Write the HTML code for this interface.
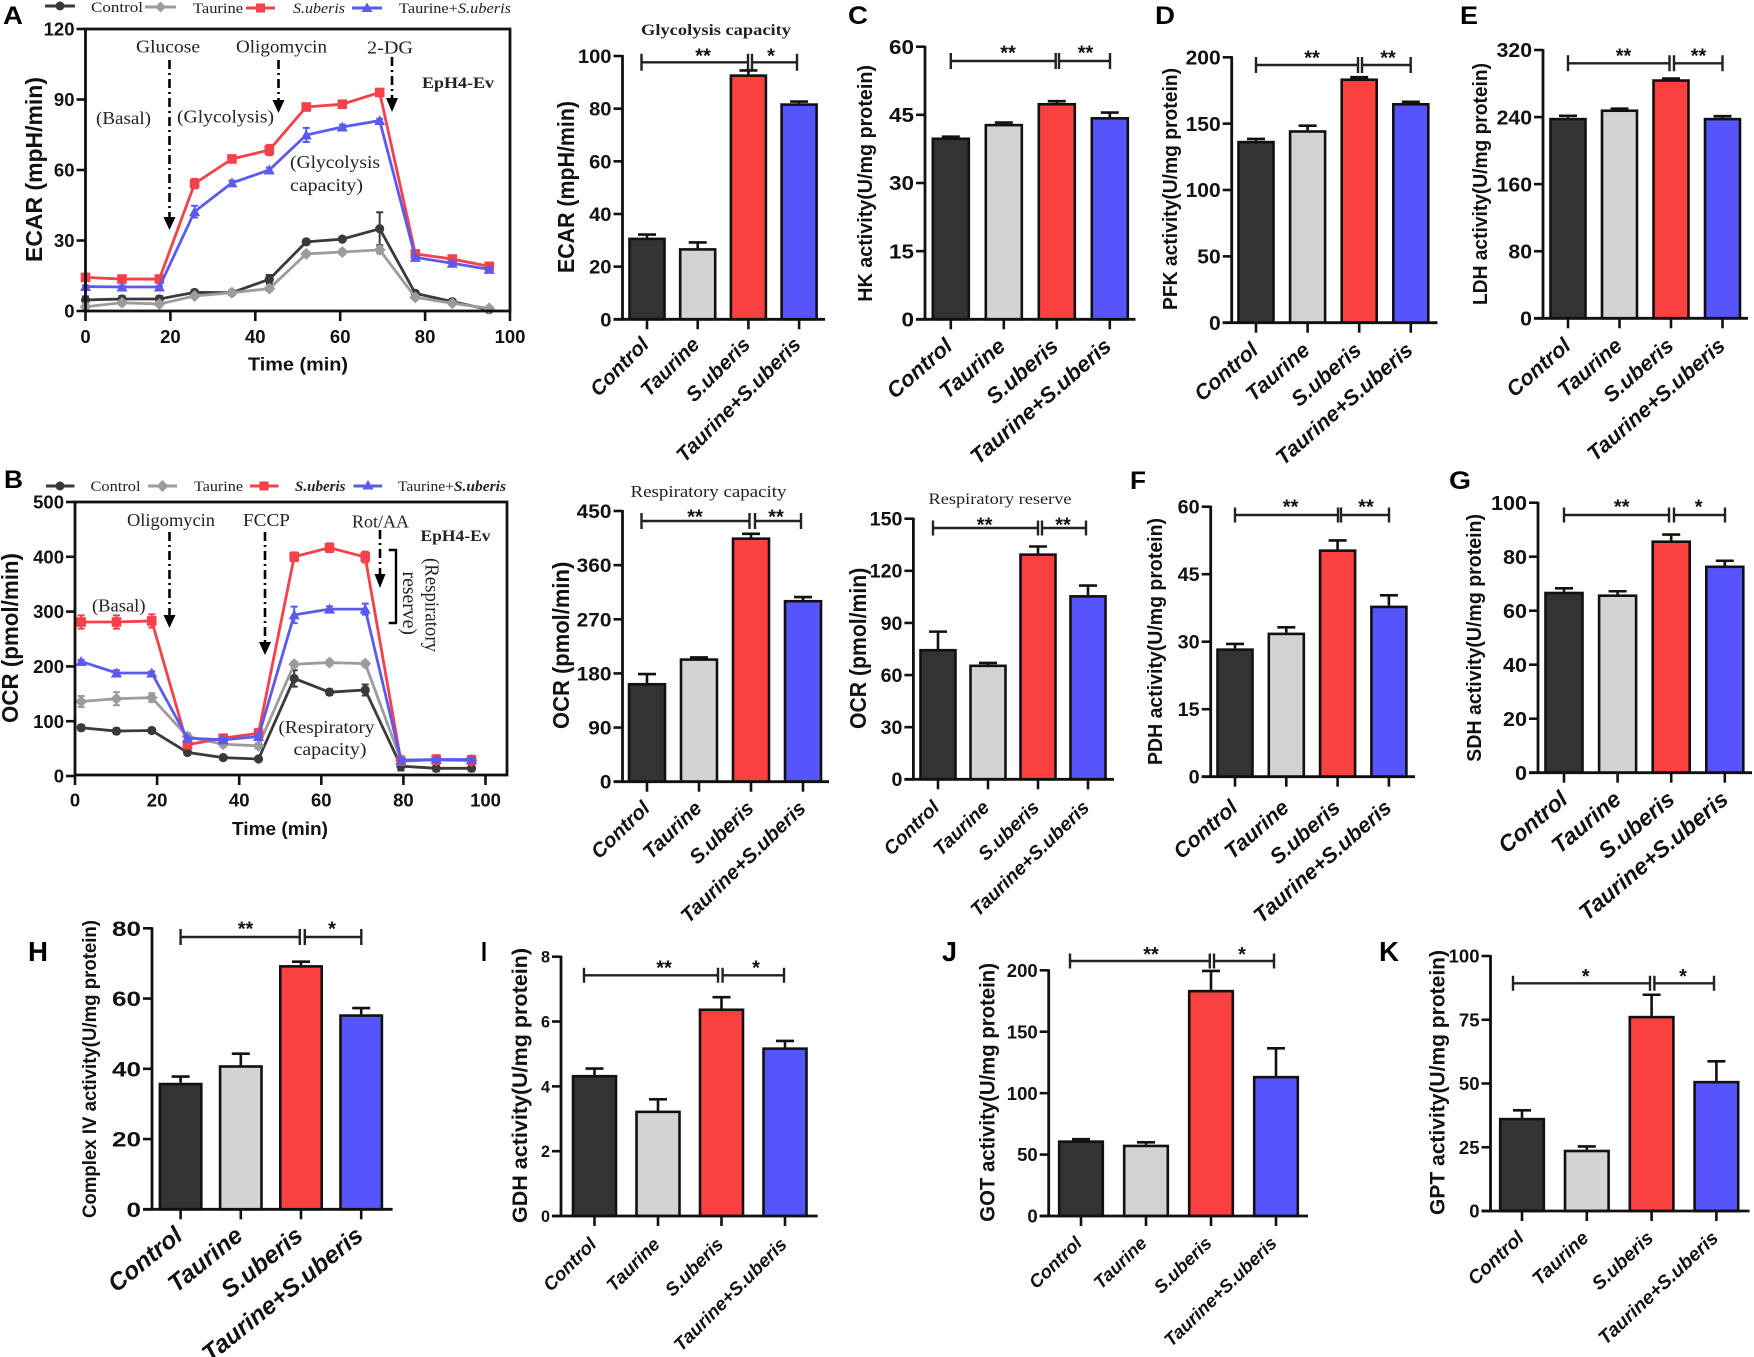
<!DOCTYPE html>
<html lang="en">
<head>
<meta charset="utf-8">
<title>Taurine and S.uberis metabolic activity panels</title>
<style>
html,body{margin:0;padding:0;background:#fff;width:1754px;height:1357px;overflow:hidden}
svg{display:block}
.serif{font-family:"Liberation Serif",serif;fill:#222}
.sans{font-family:"Liberation Sans",sans-serif}
.letter{font-family:"Liberation Sans",sans-serif;font-weight:700;font-size:25px;fill:#000}
.letter-tall{font-size:28px}
.arrow{stroke:#000;stroke-width:2.6;stroke-dasharray:9 4 2 4;fill:none}
</style>
</head>
<body>
<svg id="figure" xmlns="http://www.w3.org/2000/svg" width="1754" height="1357" viewBox="0 0 1754 1357">
  <rect x="0" y="0" width="1754" height="1357" fill="#fff"/>
  <g id="charts"></g>

  <g>
    <text class="letter" x="3" y="24" textLength="20" lengthAdjust="spacingAndGlyphs">A</text>
    <text class="letter" x="4" y="488" textLength="19" lengthAdjust="spacingAndGlyphs">B</text>
    <text class="letter" x="848" y="24" textLength="20" lengthAdjust="spacingAndGlyphs">C</text>
    <text class="letter" x="1155" y="24" textLength="20" lengthAdjust="spacingAndGlyphs">D</text>
    <text class="letter" x="1460" y="24" textLength="18" lengthAdjust="spacingAndGlyphs">E</text>
    <text class="letter" x="1130" y="489" textLength="16" lengthAdjust="spacingAndGlyphs">F</text>
    <text class="letter" x="1449" y="489" textLength="22" lengthAdjust="spacingAndGlyphs">G</text>
    <text class="letter letter-tall" x="28" y="961" textLength="20" lengthAdjust="spacingAndGlyphs">H</text>
    <text class="letter letter-tall" x="481" y="961" textLength="6" lengthAdjust="spacingAndGlyphs">I</text>
    <text class="letter letter-tall" x="942" y="961" textLength="15" lengthAdjust="spacingAndGlyphs">J</text>
    <text class="letter letter-tall" x="1379" y="961" textLength="20" lengthAdjust="spacingAndGlyphs">K</text>
  </g>

  <g>
    <g>
      <line x1="45" y1="6" x2="75" y2="6" stroke="#3a3a3a" stroke-width="3"/><circle cx="60" cy="6" r="4.5" fill="#3a3a3a"/>
      <text class="serif" x="91" y="12" font-size="15" textLength="52" lengthAdjust="spacingAndGlyphs">Control</text>
    </g>
    <g>
      <line x1="145" y1="7" x2="176" y2="7" stroke="#9c9c9c" stroke-width="3"/><path d="M160.500 1.500l5.500 5.500-5.500 5.500-5.500-5.500z" fill="#9c9c9c"/>
      <text class="serif" x="193" y="13" font-size="15" textLength="50" lengthAdjust="spacingAndGlyphs">Taurine</text>
    </g>
    <g>
      <line x1="246" y1="8" x2="275" y2="8" stroke="#f6404a" stroke-width="3"/><rect x="256" y="3.500" width="9" height="9" fill="#f6404a"/>
      <text class="serif" x="293" y="13" font-size="15" font-style="italic" textLength="52" lengthAdjust="spacingAndGlyphs">S.uberis</text>
    </g>
    <g>
      <line x1="352" y1="8" x2="382" y2="8" stroke="#5a5af0" stroke-width="3"/><path d="M367 2.500l5.500 9.500h-11z" fill="#5a5af0"/>
      <text class="serif" x="399" y="13" font-size="15" textLength="112" lengthAdjust="spacingAndGlyphs">Taurine+<tspan font-style="italic">S.uberis</tspan></text>
    </g>
  </g>

  <g>
    <text class="serif" x="136" y="52.500" font-size="18" textLength="64" lengthAdjust="spacingAndGlyphs">Glucose</text>
    <text class="serif" x="236" y="52.500" font-size="18" textLength="91" lengthAdjust="spacingAndGlyphs">Oligomycin</text>
    <text class="serif" x="367" y="53.500" font-size="18" textLength="46" lengthAdjust="spacingAndGlyphs">2-DG</text>
    <text class="serif" x="422" y="88" font-size="16" font-weight="700" textLength="72" lengthAdjust="spacingAndGlyphs">EpH4-Ev</text>
    <text class="serif" x="96" y="124" font-size="18" textLength="55" lengthAdjust="spacingAndGlyphs">(Basal)</text>
    <text class="serif" x="177" y="122.500" font-size="18" textLength="97" lengthAdjust="spacingAndGlyphs">(Glycolysis)</text>
    <text class="serif" x="290" y="168" font-size="18" textLength="90" lengthAdjust="spacingAndGlyphs">(Glycolysis</text>
    <text class="serif" x="290" y="191" font-size="18" textLength="73" lengthAdjust="spacingAndGlyphs">capacity)</text>
    <line class="arrow" x1="169.500" y1="60" x2="169.500" y2="217"/>
    <path d="M163.500 217h12l-6 13z" fill="#000"/>
    <line class="arrow" x1="278.500" y1="60" x2="278.500" y2="100"/>
    <path d="M272.500 100h12l-6 13z" fill="#000"/>
    <line class="arrow" x1="392" y1="57" x2="392" y2="98"/>
    <path d="M386 98h12l-6 14z" fill="#000"/>
  </g>

  <g>
    <g>
      <line x1="46" y1="486" x2="74.500" y2="486" stroke="#3a3a3a" stroke-width="3"/><circle cx="60" cy="486" r="4.500" fill="#3a3a3a"/>
      <text class="serif" x="90.500" y="491" font-size="15" textLength="50" lengthAdjust="spacingAndGlyphs">Control</text>
    </g>
    <g>
      <line x1="148" y1="486" x2="177" y2="486" stroke="#9c9c9c" stroke-width="3"/><path d="M162.500 480l6 6-6 6-6-6z" fill="#9c9c9c"/>
      <text class="serif" x="194" y="491" font-size="15" textLength="49" lengthAdjust="spacingAndGlyphs">Taurine</text>
    </g>
    <g>
      <line x1="250" y1="486" x2="278.500" y2="486" stroke="#f6404a" stroke-width="3"/><rect x="259.500" y="481.500" width="9" height="9" fill="#f6404a"/>
      <text class="serif" x="295" y="491" font-size="15" font-style="italic" font-weight="700" textLength="50.500" lengthAdjust="spacingAndGlyphs">S.uberis</text>
    </g>
    <g>
      <line x1="353.500" y1="486" x2="382" y2="486" stroke="#5a5af0" stroke-width="3"/><path d="M368 480l5.500 9.500h-11z" fill="#5a5af0"/>
      <text class="serif" x="398" y="491" font-size="15" textLength="108" lengthAdjust="spacingAndGlyphs">Taurine+<tspan font-style="italic" font-weight="700">S.uberis</tspan></text>
    </g>
  </g>

  <g>
    <text class="serif" x="127" y="526" font-size="18" textLength="88" lengthAdjust="spacingAndGlyphs">Oligomycin</text>
    <text class="serif" x="243" y="526" font-size="18" textLength="47" lengthAdjust="spacingAndGlyphs">FCCP</text>
    <text class="serif" x="352" y="527.500" font-size="18" textLength="57" lengthAdjust="spacingAndGlyphs">Rot/AA</text>
    <text class="serif" x="420.500" y="541" font-size="16" font-weight="700" textLength="70" lengthAdjust="spacingAndGlyphs">EpH4-Ev</text>
    <text class="serif" x="92" y="611.500" font-size="18" textLength="53.500" lengthAdjust="spacingAndGlyphs">(Basal)</text>
    <text class="serif" x="278.500" y="733" font-size="18" textLength="96" lengthAdjust="spacingAndGlyphs">(Respiratory</text>
    <text class="serif" x="293.500" y="755" font-size="18" textLength="73" lengthAdjust="spacingAndGlyphs">capacity)</text>
    <text class="serif" transform="translate(425.500 558) rotate(90)" font-size="20" textLength="94" lengthAdjust="spacingAndGlyphs">(Respiratory</text>
    <text class="serif" transform="translate(403 571.500) rotate(90)" font-size="20" textLength="63.500" lengthAdjust="spacingAndGlyphs">reserve)</text>
    <path d="M388.700 550H396V623H388.700" fill="none" stroke="#000" stroke-width="2.400"/>
    <line class="arrow" x1="169.500" y1="532" x2="169.500" y2="615"/>
    <path d="M163.500 615h12l-6 13z" fill="#000"/>
    <line class="arrow" x1="265" y1="532" x2="265" y2="642"/>
    <path d="M259 642h12l-6 13z" fill="#000"/>
    <line class="arrow" x1="380" y1="530" x2="380" y2="574"/>
    <path d="M374.500 574h11l-5.500 14z" fill="#000"/>
  </g>
</svg>

<script>
// ---------- shared categories ----------
const categories = ['Control', 'Taurine', 'S.uberis', 'Taurine+S.uberis'];
const barFills = ['#333333', '#d3d3d3', '#fb4040', '#5555fb'];

// ---------- line chart data (panel A) ----------
const timeTicks = [0, 20, 40, 60, 80, 100];
const ecarLineTicks = [0, 30, 60, 90, 120];
const ecarTimes = [0, 8.6, 17.4, 25.7, 34.5, 43.3, 52, 60.5, 69.3, 77.7, 86.4, 95.1];
const ecarControl = [4.7, 5.1, 5.1, 7.9, 7.8, 13.5, 29.4, 30.6, 35, 7.5, 4, 0.6];
const ecarControlErr = [1.5, 1.3, 1.3, 1, 1, 1.8, 1, 0.8, 7, 1, 0.6, 0.5];
const ecarTaurine = [1.8, 3.5, 3, 6.4, 7.8, 9.5, 24.3, 25.1, 26, 5.8, 3.3, 1.1];
const ecarTaurineErr = [1.5, 1, 1, 0.8, 0.8, 1, 1, 1, 1.5, 0.8, 0.6, 0.5];
const ecarSuberis = [14.3, 13.6, 13.6, 54.2, 64.7, 68.5, 86.8, 88, 93, 24.3, 22.1, 19];
const ecarSuberisErr = [1, 1, 1, 2, 1.5, 2.2, 1.5, 1.3, 1.2, 1.5, 1, 1];
const ecarCombo = [10.4, 10.2, 10.2, 42.3, 54.5, 60, 74.9, 78.3, 81, 22.8, 20.3, 17.7];
const ecarComboErr = [0.5, 0.6, 0.5, 2.5, 1, 1, 3, 1, 0.8, 0.8, 0.8, 0.8];

// ---------- line chart data (panel B) ----------
const ocrLineTicks = [0, 100, 200, 300, 400, 500];
const ocrTimes = [1.5, 10.1, 18.7, 27.4, 36.1, 44.7, 53.4, 62, 70.7, 79.4, 88, 96.6];
const ocrControl = [88, 82, 83, 43, 33.5, 31, 178, 153, 157, 18, 14, 14];
const ocrControlErr = [5, 5, 4, 4, 4, 3, 15, 5, 10, 8, 5, 5];
const ocrTaurine = [136, 141, 143, 72, 58, 55, 204, 207, 205, 29, 29, 28];
const ocrTaurineErr = [10, 12, 8, 6, 5, 5, 5, 5, 5, 8, 5, 5];
const ocrSuberis = [281, 281, 283, 57, 69, 78, 400, 416.6, 399.5, 27, 30, 29];
const ocrSuberisErr = [12, 12, 12, 4, 4, 8, 8, 8, 10, 3, 8, 8];
const ocrCombo = [209, 188, 188, 69, 66, 72, 294, 304.5, 304.5, 29, 30, 30];
const ocrComboErr = [3, 5, 3, 3, 4, 4, 15, 5, 10, 3, 3, 3];

// ---------- bar chart data ----------
const glyTicks = [0, 20, 40, 60, 80, 100];
const glyValues = [31, 27, 93, 82];
const glyErrors = [1.2, 2.2, 1.5, 0.7];
const respCapTicks = [0, 90, 180, 270, 360, 450];
const respCapValues = [164, 205, 406, 302];
const respCapErrors = [15, 1.5, 6, 5];
const respResTicks = [0, 30, 60, 90, 120, 150];
const respResValues = [75, 66, 130, 106];
const respResErrors = [10, 1, 4, 5.5];
const hkTicks = [0, 15, 30, 45, 60];
const hkValues = [40, 43, 47.6, 44.5];
const hkErrors = [0.2, 0.3, 0.4, 1];
const pfkTicks = [0, 50, 100, 150, 200];
const pfkValues = [137, 145, 184, 165.5];
const pfkErrors = [1.5, 3.5, 1, 1];
const ldhTicks = [0, 80, 160, 240, 320];
const ldhValues = [239, 249, 285, 239];
const ldhErrors = [2.5, 1, 1, 2];
const pdhTicks = [0, 15, 30, 45, 60];
const pdhValues = [28.5, 32, 50.5, 38];
const pdhErrors = [1, 1.2, 2, 2.3];
const sdhTicks = [0, 20, 40, 60, 80, 100];
const sdhValues = [67, 66, 86, 76.7];
const sdhErrors = [1.3, 1.2, 2.2, 1.8];
const cxTicks = [0, 20, 40, 60, 80];
const cxValues = [36, 41, 69.5, 55.5];
const cxErrors = [1.8, 3.3, 1, 1.8];
const gdhTicks = [0, 2, 4, 6, 8];
const gdhValues = [4.35, 3.25, 6.4, 5.2];
const gdhErrors = [0.2, 0.35, 0.35, 0.2];
const gotTicks = [0, 50, 100, 150, 200];
const gotValues = [61.5, 58, 184, 114];
const gotErrors = [1, 2, 15.5, 22.5];
const gptTicks = [0, 25, 50, 75, 100];
const gptValues = [36.5, 24, 76.5, 51];
const gptErrors = [3, 1.3, 8.3, 7.7];

const NS = 'http://www.w3.org/2000/svg';
const root = document.getElementById('charts');

function make(tag, attrs, parent) {
  const node = document.createElementNS(NS, tag);
  for (const k in attrs) node.setAttribute(k, attrs[k]);
  parent.appendChild(node);
  return node;
}

function addText(str, attrs, parent) {
  const node = make('text', Object.assign({'font-family': '"Liberation Sans", sans-serif', fill: '#111'}, attrs), parent);
  node.textContent = str;
  return node;
}

function drawYTitle(parent, str, baseX, yStart, yEnd, size) {
  const t = addText(str, {
    transform: 'translate(' + baseX + ' ' + yEnd + ') rotate(-90)',
    'font-size': size, 'font-weight': 700,
    textLength: yEnd - yStart, lengthAdjust: 'spacingAndGlyphs'
  }, parent);
  
  
}

function drawBarPanel(p) {
  const g = make('g', {}, root);
  
  

  const yMax = p.ticks[p.ticks.length - 1];
  const yScale = v => p.y0 - (v / yMax) * (p.y0 - p.yTop);
  const xScale = i => p.first + i * p.step;

  categories.forEach((name, i) => {
    const top = yScale(p.values[i]);
    const errTop = yScale(p.values[i] + p.errors[i]);
    const cx = xScale(i);
    const line = make('line', {x1: cx, x2: cx, y1: top, y2: errTop, stroke: '#111', 'stroke-width': 2.6}, g);
    
    
    const cap = make('line', {x1: cx - 9, x2: cx + 9, y1: errTop, y2: errTop, stroke: '#111', 'stroke-width': 2.6}, g);
    
    
    const bar = make('rect', {x: cx - p.barW / 2, y: top + 1.2, width: p.barW, height: p.y0 - top - 1.2, fill: barFills[i], stroke: '#111', 'stroke-width': 2.6}, g);
    
    
    const tick = make('line', {x1: cx, x2: cx, y1: p.y0, y2: p.y0 + 10, stroke: '#111', 'stroke-width': 2.6}, g);
    
    
    const ex = cx + p.labelDx;
    const ey = p.y0 + p.labelDy;
    const label = addText(name, {
      transform: 'translate(' + ex + ' ' + ey + ') rotate(' + (-p.angle) + ')',
      'font-size': p.labelSize, 'font-weight': 700, 'font-style': 'italic', 'text-anchor': 'end'
    }, g);
    
    
  });

  const yAxis = make('line', {x1: p.axisX, x2: p.axisX, y1: p.yTop - 1, y2: p.y0 + 1.3, stroke: '#111', 'stroke-width': 2.8}, g);
  
  
  const xAxis = make('line', {x1: p.axisX - 9, x2: p.xEnd, y1: p.y0, y2: p.y0, stroke: '#111', 'stroke-width': 2.8}, g);
  
  

  p.ticks.forEach(v => {
    const y = yScale(v);
    const tick = make('line', {x1: p.axisX - 9, x2: p.axisX, y1: y, y2: y, stroke: '#111', 'stroke-width': 2.6}, g);
    
    
    const str = String(v);
    const label = addText(str, {
      x: p.axisX - 11, y: y + p.tickSize * 0.36, 'font-size': p.tickSize, 'font-weight': 700, 'text-anchor': 'end',
      textLength: str.length * p.digitW, lengthAdjust: 'spacingAndGlyphs'
    }, g);
    
    
  });

  drawYTitle(g, p.title, p.titleX, p.titleY1, p.titleY2, p.titleSize);

  p.sig.forEach(s => {
    const bracket = make('path', {
      d: 'M' + s.x1 + ' ' + (p.sigY - p.capH) + 'V' + (p.sigY + p.capH) + 'M' + s.x1 + ' ' + p.sigY + 'H' + s.x2 + 'M' + s.x2 + ' ' + (p.sigY - p.capH) + 'V' + (p.sigY + p.capH),
      fill: 'none', stroke: '#222', 'stroke-width': 2.4
    }, g);
    
    
    const star = addText(s.mark, {x: s.sx, y: p.starY + 10.5, 'font-size': 20, 'font-weight': 700, 'text-anchor': 'middle'}, g);
    
    
  });
}

function drawMarker(g, kind, x, y, color) {
  let m;
  if (kind === 'circle') m = make('circle', {cx: x, cy: y, r: 4.6, fill: color}, g);
  else if (kind === 'diamond') m = make('path', {d: 'M' + x + ' ' + (y - 6) + 'l6 6-6 6-6-6z', fill: color}, g);
  else if (kind === 'square') m = make('rect', {x: x - 4.8, y: y - 4.8, width: 9.6, height: 9.6, fill: color}, g);
  else m = make('path', {d: 'M' + x + ' ' + (y - 5.5) + 'l5.5 10h-11z', fill: color}, g);
  
  
}

function drawLinePanel(p) {
  const g = make('g', {}, root);
  
  

  const yMax = p.yTicks[p.yTicks.length - 1];
  const xMax = p.xTicks[p.xTicks.length - 1];
  const xScale = t => p.x0 + (t / xMax) * (p.x100 - p.x0);
  const yScale = v => p.y0 - (v / yMax) * (p.y0 - p.yTop);

  p.series.forEach(s => {
    const points = s.values.map((v, i) => xScale(p.times[i]) + ',' + yScale(v)).join(' ');
    const line = make('polyline', {points: points, fill: 'none', stroke: s.color, 'stroke-width': 2.8}, g);
    
    
    s.values.forEach((v, i) => {
      const x = xScale(p.times[i]);
      const yHi = yScale(v + s.errors[i]);
      const yLo = yScale(Math.max(0, v - s.errors[i]));
      const err = make('path', {d: 'M' + (x - 3.5) + ' ' + yHi + 'H' + (x + 3.5) + 'M' + x + ' ' + yHi + 'V' + yLo + 'M' + (x - 3.5) + ' ' + yLo + 'H' + (x + 3.5), fill: 'none', stroke: s.color, 'stroke-width': 2}, g);
      
      
      drawMarker(g, s.marker, x, yScale(v), s.color);
    });
  });

  const frame = make('rect', {x: p.frameL, y: p.frameT, width: p.frameR - p.frameL, height: p.frameB - p.frameT, fill: 'none', stroke: '#111', 'stroke-width': 2.8}, g);
  
  

  p.xTicks.forEach(v => {
    const x = xScale(v);
    const tick = make('line', {x1: x, x2: x, y1: p.frameB, y2: p.frameB + 10, stroke: '#111', 'stroke-width': 2.6}, g);
    
    
    const label = addText(String(v), {x: x, y: p.xLabelY, 'font-size': 18.5, 'font-weight': 700, 'text-anchor': 'middle'}, g);
    
    
  });
  p.yTicks.forEach(v => {
    const y = yScale(v);
    const tick = make('line', {x1: p.frameL - 9, x2: p.frameL, y1: y, y2: y, stroke: '#111', 'stroke-width': 2.6}, g);
    
    
    const label = addText(String(v), {x: p.frameL - 11, y: y + 6.6, 'font-size': 18.5, 'font-weight': 700, 'text-anchor': 'end'}, g);
    
    
  });

  const xt = addText('Time (min)', {x: p.timeX, y: p.timeY, 'font-size': 18, 'font-weight': 700, textLength: p.timeW, lengthAdjust: 'spacingAndGlyphs'}, g);
  
  
  drawYTitle(g, p.title, p.titleX, p.titleY1, p.titleY2, p.titleSize);
}

drawLinePanel({
  key: 'ecar', times: ecarTimes, xTicks: timeTicks, yTicks: ecarLineTicks,
  series: [
    {name: 'control', values: ecarControl, errors: ecarControlErr, color: '#3a3a3a', marker: 'circle'},
    {name: 'taurine', values: ecarTaurine, errors: ecarTaurineErr, color: '#9c9c9c', marker: 'diamond'},
    {name: 's-uberis', values: ecarSuberis, errors: ecarSuberisErr, color: '#f6404a', marker: 'square'},
    {name: 'taurine-s-uberis', values: ecarCombo, errors: ecarComboErr, color: '#5a5af0', marker: 'triangle'}
  ],
  x0: 85.5, x100: 510, y0: 311, yTop: 29, frameL: 85.5, frameR: 510, frameT: 29, frameB: 311,
  xLabelY: 343, timeX: 248, timeY: 370.5, timeW: 100,
  title: 'ECAR (mpH/min)', titleX: 42, titleY1: 77, titleY2: 262, titleSize: 23
});

drawLinePanel({
  key: 'ocr', times: ocrTimes, xTicks: timeTicks, yTicks: ocrLineTicks,
  series: [
    {name: 'control', values: ocrControl, errors: ocrControlErr, color: '#3a3a3a', marker: 'circle'},
    {name: 'taurine', values: ocrTaurine, errors: ocrTaurineErr, color: '#9c9c9c', marker: 'diamond'},
    {name: 's-uberis', values: ocrSuberis, errors: ocrSuberisErr, color: '#f6404a', marker: 'square'},
    {name: 'taurine-s-uberis', values: ocrCombo, errors: ocrComboErr, color: '#5a5af0', marker: 'triangle'}
  ],
  x0: 75, x100: 485.5, y0: 776, yTop: 502, frameL: 75, frameR: 507, frameT: 502, frameB: 775,
  xLabelY: 806.5, timeX: 232, timeY: 835, timeW: 96,
  title: 'OCR (pmol/min)', titleX: 18, titleY1: 553, titleY2: 723, titleSize: 23
});

drawBarPanel({key: 'glycolysis-capacity', values: glyValues, errors: glyErrors, ticks: glyTicks,
  axisX: 622.5, y0: 319.3, yTop: 56, xEnd: 825, first: 647, step: 50.7, barW: 35, tickSize: 19.5, digitW: 11.2,
  title: 'ECAR (mpH/min)', titleX: 574, titleY1: 101, titleY2: 273, titleSize: 23,
  labelSize: 20.5, labelDx: 3, labelDy: 26.5, angle: 45,
  sigY: 62.3, capH: 8.5, starY: 52,
  sig: [{x1: 641.5, x2: 748, mark: '**', sx: 703}, {x1: 752, x2: 797, mark: '*', sx: 771}]});

drawBarPanel({key: 'hk', values: hkValues, errors: hkErrors, ticks: hkTicks,
  axisX: 925, y0: 319.3, yTop: 46.7, xEnd: 1135.5, first: 950.8, step: 53, barW: 36, tickSize: 20, digitW: 12.5,
  title: 'HK activity(U/mg protein)', titleX: 872, titleY1: 65, titleY2: 301.7, titleSize: 20,
  labelSize: 22, labelDx: 3, labelDy: 29, angle: 41,
  sigY: 61, capH: 8, starY: 49,
  sig: [{x1: 950.8, x2: 1055.7, mark: '**', sx: 1008}, {x1: 1059, x2: 1110, mark: '**', sx: 1085.5}]});

drawBarPanel({key: 'pfk', values: pfkValues, errors: pfkErrors, ticks: pfkTicks,
  axisX: 1231.7, y0: 322.7, yTop: 57.3, xEnd: 1437.5, first: 1256, step: 51.6, barW: 35, tickSize: 20, digitW: 11.7,
  title: 'PFK activity(U/mg protein)', titleX: 1177, titleY1: 68, titleY2: 310, titleSize: 20,
  labelSize: 21.4, labelDx: 3.5, labelDy: 29.5, angle: 41,
  sigY: 65, capH: 8, starY: 54,
  sig: [{x1: 1256, x2: 1358, mark: '**', sx: 1312}, {x1: 1362, x2: 1410.7, mark: '**', sx: 1388}]});

drawBarPanel({key: 'ldh', values: ldhValues, errors: ldhErrors, ticks: ldhTicks,
  axisX: 1543, y0: 318.3, yTop: 50, xEnd: 1748, first: 1568, step: 51.5, barW: 35, tickSize: 20, digitW: 11.8,
  title: 'LDH activity(U/mg protein)', titleX: 1487, titleY1: 63, titleY2: 305, titleSize: 20,
  labelSize: 21.5, labelDx: 4, labelDy: 29.5, angle: 41,
  sigY: 63.3, capH: 8, starY: 52,
  sig: [{x1: 1568, x2: 1669.5, mark: '**', sx: 1623.5}, {x1: 1674, x2: 1722.5, mark: '**', sx: 1698.5}]});

drawBarPanel({key: 'respiratory-capacity', values: respCapValues, errors: respCapErrors, ticks: respCapTicks,
  axisX: 622.5, y0: 781.7, yTop: 511, xEnd: 829, first: 647, step: 52, barW: 36, tickSize: 19.5, digitW: 11.6,
  title: 'OCR (pmol/min)', titleX: 569, titleY1: 561.7, titleY2: 729, titleSize: 23,
  labelSize: 20.3, labelDx: 4, labelDy: 28, angle: 44,
  sigY: 521, capH: 8, starY: 513,
  sig: [{x1: 641.5, x2: 749.5, mark: '**', sx: 695}, {x1: 755, x2: 801, mark: '**', sx: 776}]});

drawBarPanel({key: 'respiratory-reserve', values: respResValues, errors: respResErrors, ticks: respResTicks,
  axisX: 913.4, y0: 779.3, yTop: 518.7, xEnd: 1114, first: 938, step: 50, barW: 35, tickSize: 19, digitW: 10.9,
  title: 'OCR (pmol/min)', titleX: 866, titleY1: 567.7, titleY2: 729, titleSize: 23,
  labelSize: 19.3, labelDx: 2.5, labelDy: 29.5, angle: 44,
  sigY: 528, capH: 7.5, starY: 521,
  sig: [{x1: 933, x2: 1038, mark: '**', sx: 984.6}, {x1: 1042, x2: 1086, mark: '**', sx: 1063}]});

drawBarPanel({key: 'pdh', values: pdhValues, errors: pdhErrors, ticks: pdhTicks,
  axisX: 1210.7, y0: 776.7, yTop: 506.7, xEnd: 1415, first: 1235, step: 51.3, barW: 35, tickSize: 19.5, digitW: 11,
  title: 'PDH activity(U/mg protein)', titleX: 1162, titleY1: 518, titleY2: 765, titleSize: 20,
  labelSize: 21.5, labelDx: 4, labelDy: 33, angle: 41,
  sigY: 515, capH: 7.5, starY: 503,
  sig: [{x1: 1235, x2: 1338, mark: '**', sx: 1290.6}, {x1: 1341, x2: 1389, mark: '**', sx: 1366}]});

drawBarPanel({key: 'sdh', values: sdhValues, errors: sdhErrors, ticks: sdhTicks,
  axisX: 1538, y0: 772.7, yTop: 502.7, xEnd: 1752, first: 1564, step: 53.6, barW: 37, tickSize: 20, digitW: 12,
  title: 'SDH activity(U/mg protein)', titleX: 1481, titleY1: 514, titleY2: 761.7, titleSize: 20,
  labelSize: 23, labelDx: 5, labelDy: 29, angle: 40,
  sigY: 515, capH: 7.5, starY: 503,
  sig: [{x1: 1564, x2: 1669, mark: '**', sx: 1621.7}, {x1: 1674, x2: 1725, mark: '*', sx: 1698.6}]});

drawBarPanel({key: 'complex-iv', values: cxValues, errors: cxErrors, ticks: cxTicks,
  axisX: 152, y0: 1209.3, yTop: 928.3, xEnd: 392.6, first: 180.6, step: 60.2, barW: 41.4, tickSize: 21, digitW: 14.5,
  title: 'Complex IV activity(U/mg protein)', titleX: 96, titleY1: 920, titleY2: 1218, titleSize: 19,
  labelSize: 24.5, labelDx: 3.5, labelDy: 29, angle: 39,
  sigY: 937, capH: 8, starY: 925,
  sig: [{x1: 180.6, x2: 299.8, mark: '**', sx: 245.5}, {x1: 304.8, x2: 361.3, mark: '*', sx: 332}]});

drawBarPanel({key: 'gdh', values: gdhValues, errors: gdhErrors, ticks: gdhTicks,
  axisX: 561, y0: 1216, yTop: 956.7, xEnd: 817.7, first: 594.5, step: 63.5, barW: 43, tickSize: 16.5, digitW: 9,
  title: 'GDH activity(U/mg protein)', titleX: 527, titleY1: 948, titleY2: 1223, titleSize: 21,
  labelSize: 18.6, labelDx: 3, labelDy: 29.5, angle: 45,
  sigY: 975.3, capH: 7.5, starY: 964,
  sig: [{x1: 584, x2: 718, mark: '**', sx: 664}, {x1: 722.6, x2: 784, mark: '*', sx: 756}]});

drawBarPanel({key: 'got', values: gotValues, errors: gotErrors, ticks: gotTicks,
  axisX: 1048.7, y0: 1216, yTop: 970.3, xEnd: 1308, first: 1081, step: 65, barW: 43.6, tickSize: 18.5, digitW: 10.3,
  title: 'GOT activity(U/mg protein)', titleX: 994.5, titleY1: 963, titleY2: 1221.7, titleSize: 21,
  labelSize: 18.3, labelDx: 2, labelDy: 28.5, angle: 44,
  sigY: 961, capH: 7.5, starY: 950.7,
  sig: [{x1: 1070, x2: 1209.8, mark: '**', sx: 1151}, {x1: 1214, x2: 1274, mark: '*', sx: 1242}]});

drawBarPanel({key: 'gpt', values: gptValues, errors: gptErrors, ticks: gptTicks,
  axisX: 1490.5, y0: 1211, yTop: 956, xEnd: 1749.5, first: 1522, step: 64.8, barW: 43.6, tickSize: 18.5, digitW: 10.3,
  title: 'GPT activity(U/mg protein)', titleX: 1444.7, titleY1: 950, titleY2: 1215, titleSize: 21,
  labelSize: 19.2, labelDx: 3, labelDy: 28.5, angle: 43,
  sigY: 983.3, capH: 7.5, starY: 972.7,
  sig: [{x1: 1513, x2: 1650, mark: '*', sx: 1585.6}, {x1: 1654.4, x2: 1714, mark: '*', sx: 1683}]});
</script>

<svg xmlns="http://www.w3.org/2000/svg" width="1754" height="1357" viewBox="0 0 1754 1357" style="position:absolute;left:0;top:0;pointer-events:none">
  <text class="serif" x="716" y="35" font-size="16" font-weight="700" text-anchor="middle" textLength="150" lengthAdjust="spacingAndGlyphs">Glycolysis capacity</text>
  <text class="serif" x="708.500" y="497" font-size="17" text-anchor="middle" textLength="156" lengthAdjust="spacingAndGlyphs">Respiratory capacity</text>
  <text class="serif" x="1000" y="504" font-size="16" text-anchor="middle" textLength="143" lengthAdjust="spacingAndGlyphs">Respiratory reserve</text>
</svg>
</body>
</html>
